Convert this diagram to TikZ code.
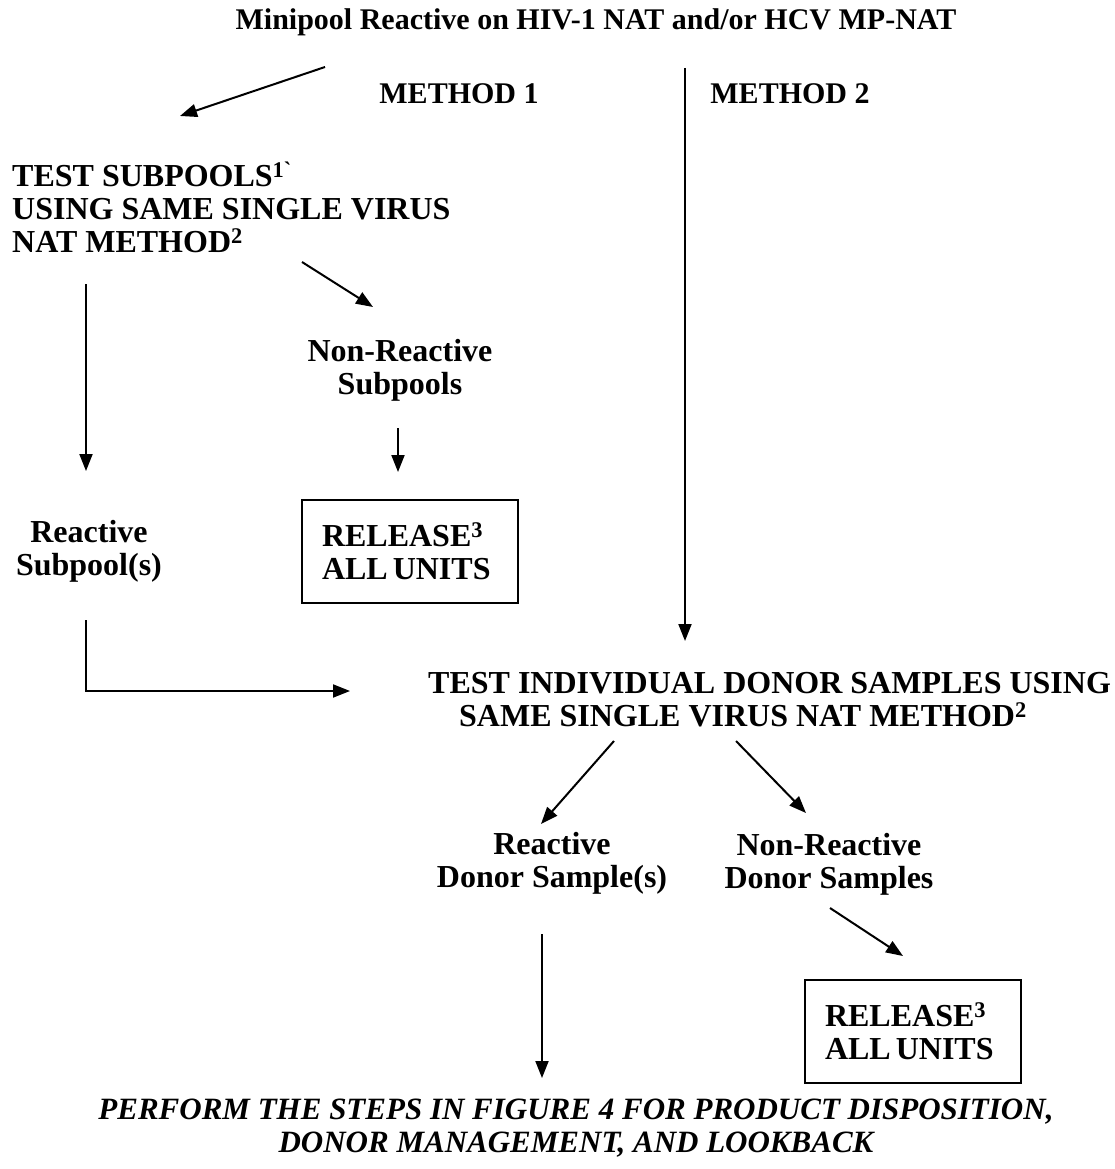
\documentclass[tikz,border=0pt]{standalone}
\usepackage{fontspec}
\setmainfont{Liberation Serif}[Ligatures=TeXOff]
\usetikzlibrary{arrows.meta}
\tikzset{
  txt/.style={inner sep=0pt, align=center, font=\fontsize{32}{33}\selectfont\bfseries},
  stxt/.style={inner sep=0pt, align=center, font=\fontsize{30}{33}\selectfont\bfseries},
  itxt/.style={inner sep=0pt, align=center, font=\fontsize{31}{33}\selectfont\bfseries\itshape},
  boxed/.style={txt, draw, line width=2pt, align=left, inner xsep=20pt, inner ysep=0pt,
                text width=176pt, minimum height=103pt},
  arr/.style={line width=2pt, -{Triangle[length=17pt,width=13pt]}}
}
\begin{document}
\begin{tikzpicture}[x=1pt,y=-1pt]
\useasboundingbox (0,0) rectangle (1114,1169);
\node[stxt] (title) at (596,22) {Minipool Reactive on HIV-1 NAT and/or HCV MP-NAT};
\node[stxt] (m1) at (459,94) {METHOD 1};
\node[stxt] (m2) at (790,94) {METHOD 2};
\node[txt, align=left, anchor=west] (sub) at (12,207) {TEST SUBPOOLS\textsuperscript{1`}\\USING SAME SINGLE VIRUS\\NAT METHOD\textsuperscript{2}};
\node[txt] (nrsub) at (400,370) {Non-Reactive\\Subpools};
\node[boxed] (rel1) at (410,551) {RELEASE\textsuperscript{3}\\ALL\hspace{5pt}UNITS};
\node[txt] (rsub) at (89,551) {Reactive\\Subpool(s)};
\node[txt, align=left, anchor=west] (idon) at (428,700) {TEST INDIVIDUAL DONOR SAMPLES USING\\\hspace*{31pt}SAME SINGLE VIRUS NAT METHOD\textsuperscript{2}};
\node[txt] (rdon) at (552,863) {Reactive\\Donor Sample(s)};
\node[txt] (nrdon) at (829,864) {Non-Reactive\\Donor Samples};
\node[boxed] (rel2) at (913,1031) {RELEASE\textsuperscript{3}\\ALL\hspace{5pt}UNITS};
\node[itxt] (perf) at (576,1128) {PERFORM THE STEPS IN FIGURE 4 FOR PRODUCT DISPOSITION,\\DONOR MANAGEMENT, AND LOOKBACK};

\coordinate (a1s) at (325,67);   \coordinate (a1e) at (180,116);
\coordinate (a2s) at (685,68);   \coordinate (a2e) at (685,641);
\coordinate (a3s) at (302,262);  \coordinate (a3e) at (373,307);
\coordinate (a4s) at (86,284);   \coordinate (a4e) at (86,471);
\coordinate (a5s) at (398,428);  \coordinate (a5e) at (398,472);
\coordinate (a6s) at (86,620);   \coordinate (a6c) at (86,691);  \coordinate (a6e) at (350,691);
\coordinate (a7s) at (614,741);  \coordinate (a7e) at (541,824);
\coordinate (a8s) at (736,741);  \coordinate (a8e) at (806,813);
\coordinate (a9s) at (830,908);  \coordinate (a9e) at (903,956);
\coordinate (a10s) at (542,934); \coordinate (a10e) at (542,1078);

\draw[arr] (a1s) -- (a1e);
\draw[arr] (a2s) -- (a2e);
\draw[arr] (a3s) -- (a3e);
\draw[arr] (a4s) -- (a4e);
\draw[arr] (a5s) -- (a5e);
\draw[arr] (a6s) -- (a6c) -- (a6e);
\draw[arr] (a7s) -- (a7e);
\draw[arr] (a8s) -- (a8e);
\draw[arr] (a9s) -- (a9e);
\draw[arr] (a10s) -- (a10e);
\end{tikzpicture}
\end{document}
